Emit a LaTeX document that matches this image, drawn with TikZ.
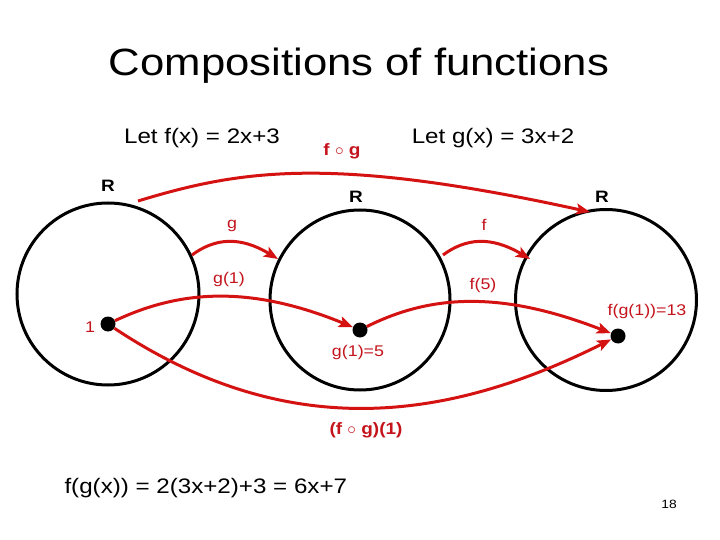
\documentclass[tikz,border=0pt]{standalone}
\usepackage{fontspec}
\setmainfont{Liberation Sans}[FakeStretch=1.15]
\usetikzlibrary{arrows.meta}
\definecolor{myred}{RGB}{212,18,18}
\definecolor{txtred}{RGB}{196,20,28}
\tikzset{
  ring/.style={circle,draw=black,line width=3pt,inner sep=0pt},
  dotnode/.style={circle,fill=black,inner sep=0pt,minimum size=15pt},
  arr/.style={draw=myred,line width=3pt,-{Stealth[length=14pt,width=11pt,inset=3pt]}},
  rlab/.style={font=\fontsize{16.5}{17}\selectfont\bfseries},
  redlab/.style={text=txtred,font=\fontsize{15.5}{16}\selectfont},
  redbold/.style={text=txtred,font=\fontsize{16.5}{17}\selectfont\bfseries},
  body/.style={font=\fontsize{21}{24}\selectfont}
}
\begin{document}
\begin{tikzpicture}[x=1pt,y=-1pt]
\useasboundingbox (0,0) rectangle (720,540);
% title and definitions
\node[font=\fontsize{38}{42}\selectfont] (title) at (359,66) {Compositions of functions};
\node[body] (letf) at (202,138) {Let f(x) = 2x+3};
\node[body] (letg) at (493,138) {Let g(x) = 3x+2};
\node[redbold] (fog) at (342,151) {f $\circ$ g};
% sets
\node[ring,minimum size=182pt] (c1) at (108,294) {};
\node[ring,minimum size=180pt] (c2) at (360,300) {};
\node[ring,minimum size=181pt] (c3) at (606,300) {};
\node[rlab] (r1) at (108,186) {R};
\node[rlab] (r2) at (356,197) {R};
\node[rlab] (r3) at (602,197) {R};
% points
\node[dotnode] (d1) at (108,324) {};
\node[dotnode] (d2) at (360,330) {};
\node[dotnode] (d3) at (618,336) {};
\node[redlab] (one) at (90,327) {1};
\node[redlab] (g1five) at (358,352) {g(1)=5};
\node[redlab] (fg13) at (647,311) {f(g(1))=13};
% map labels
\node[redlab] (glab) at (232,226) {g};
\node[redlab] (flab) at (484,225) {f};
\node[redlab] (g1lab) at (229,279) {g(1)};
\node[redlab] (f5lab) at (483,285) {f(5)};
\node[redbold] (fog1) at (366,430) {(f $\circ$ g)(1)};
% connectors
\coordinate (fgs) at (138,201);
\coordinate (fge) at (590,212);
\draw[arr] (fgs) .. controls (240,170) and (330,155) .. (fge);
\coordinate (gs) at (192,255);
\coordinate (ge) at (278,259);
\draw[arr] (gs) .. controls (215,238) and (240,236) .. (ge);
\coordinate (fs) at (443,255);
\coordinate (fe) at (530,259);
\draw[arr] (fs) .. controls (466,238) and (491,236) .. (fe);
\draw[arr] (d1) .. controls (180,290) and (250,285) .. (d2);
\draw[arr] (d2) .. controls (430,295) and (500,290) .. (d3);
\draw[arr] (d1) .. controls (290,445) and (450,420) .. (d3);
% bottom
\node[body,anchor=west] (formula) at (61,488) {f(g(x)) = 2(3x+2)+3 = 6x+7};
\node[font=\fontsize{12}{12}\selectfont] (pg) at (669,504) {18};
\end{tikzpicture}
\end{document}
